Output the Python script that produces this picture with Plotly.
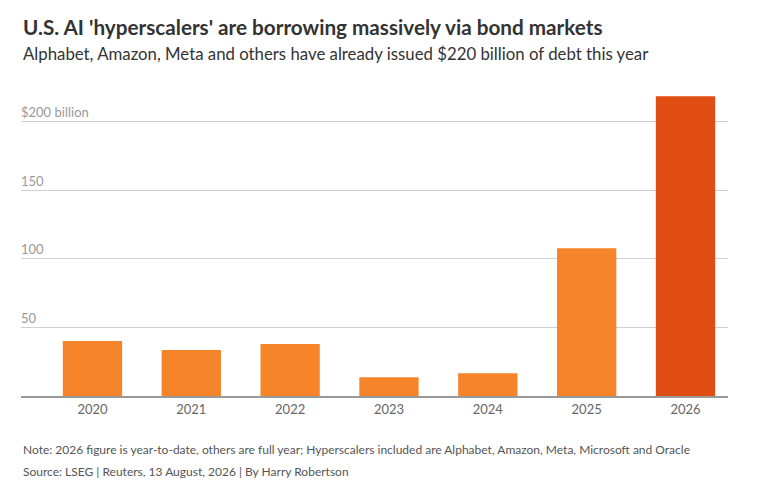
import plotly.graph_objects as go

years = ["2020", "2021", "2022", "2023", "2024", "2025", "2026"]
issuance = [40.0, 33.5, 37.9, 13.6, 16.5, 107.6, 218.4]
bar_colors = ["#F5842A"] * 6 + ["#E04D12"]
ytick_vals = [50, 100, 150, 200]
ytick_text = ["50", "100", "150", "$200 billion"]

title = "U.S. AI 'hyperscalers' are borrowing massively via bond markets"
subtitle = "Alphabet, Amazon, Meta and others have already issued $220 billion of debt this year"
note = "Note: 2026 figure is year-to-date, others are full year; Hyperscalers included are Alphabet, Amazon, Meta, Microsoft and Oracle"
source = "Source: LSEG | Reuters, 13 August, 2026 | By Harry Robertson"

W, H = 758, 500
L, R, T, B = 21, 30, 88, 104
ph = H - T - B
pw = W - L - R

def py(y):
    return (H - B - y) / ph

def px(x):
    return (x - L) / pw

FONT = "Lato"

fig = go.Figure(go.Bar(
    x=years, y=issuance, marker=dict(color=bar_colors, line=dict(width=0)),
    width=0.6,
))

fig.update_layout(
    width=W, height=H,
    margin=dict(l=L, r=R, t=T, b=B),
    paper_bgcolor="white", plot_bgcolor="white",
    showlegend=False,
    font=dict(family=FONT, color="#333333"),
    xaxis=dict(
        type="category", range=[-0.723, 6.43],
        showgrid=False, showline=True, linecolor="#999999", linewidth=2,
        ticks="", tickfont=dict(size=13, color="#666666"),
        fixedrange=True,
    ),
    yaxis=dict(
        range=[0, ph / 1.372], tickvals=ytick_vals, ticktext=ytick_text,
        ticklabelposition="inside top", ticklabelstandoff=-3,
        showgrid=True, gridcolor="#D0D0D0",
        gridwidth=1, zeroline=False, showline=False, ticks="",
        tickfont=dict(size=13, color="#999999"), fixedrange=True,
    ),
    annotations=[
        dict(text="<b>" + title + "</b>", x=px(21), y=py(27), xref="paper", yref="paper",
             xanchor="left", yanchor="middle", showarrow=False,
             font=dict(size=20.7, color="#333333", family=FONT)),
        dict(text=subtitle, x=px(21), y=py(53), xref="paper", yref="paper",
             xanchor="left", yanchor="middle", showarrow=False,
             font=dict(size=16.8, color="#333333", family=FONT)),
        dict(text=note, x=px(21), y=py(449), xref="paper", yref="paper",
             xanchor="left", yanchor="middle", showarrow=False,
             font=dict(size=12, color="#555555", family=FONT)),
        dict(text=source, x=px(21), y=py(471), xref="paper", yref="paper",
             xanchor="left", yanchor="middle", showarrow=False,
             font=dict(size=12, color="#555555", family=FONT)),
    ],
)

fig.write_html("out.html", config={"displayModeBar": False},
               post_script="document.body.style.margin='0';")
